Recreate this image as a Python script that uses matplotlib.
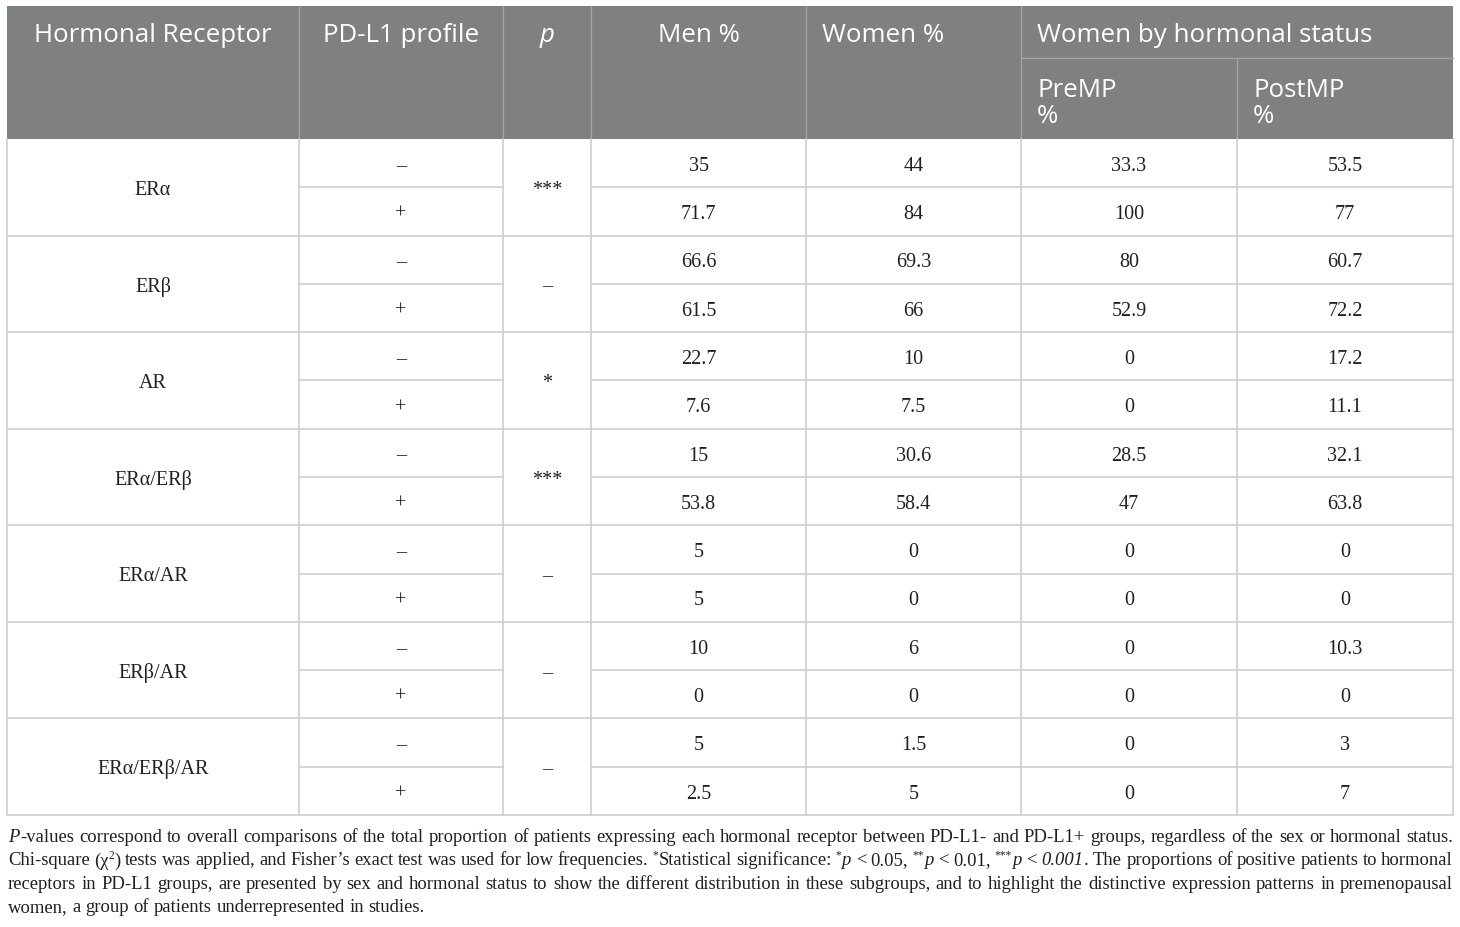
import re
import matplotlib
matplotlib.use("Agg")
import matplotlib.pyplot as plt
from matplotlib.patches import Rectangle

# ---------------- data ----------------
col_headers = ["Hormonal Receptor", "PD-L1 profile", "p", "Men %", "Women %", "Women by hormonal status"]
sub_headers = ["PreMP\n%", "PostMP\n%"]
receptors = ["ERα", "ERβ", "AR", "ERα/ERβ", "ERα/AR", "ERβ/AR", "ERα/ERβ/AR"]
pd_l1_profile = ["–", "+"]
p_values = ["***", "–", "*", "***", "–", "–", "–"]
men_pct = [35, 71.7, 66.6, 61.5, 22.7, 7.6, 15, 53.8, 5, 5, 10, 0, 5, 2.5]
women_pct = [44, 84, 69.3, 66, 10, 7.5, 30.6, 58.4, 0, 0, 6, 0, 1.5, 5]
premp_pct = [33.3, 100, 80, 52.9, 0, 0, 28.5, 47, 0, 0, 0, 0, 0, 0]
postmp_pct = [53.5, 77, 60.7, 72.2, 17.2, 11.1, 32.1, 63.8, 0, 0, 10.3, 0, 3, 7]
footnote_lines = [
    "_P_-values correspond to overall comparisons of the total proportion of patients expressing each hormonal receptor between PD-L1- and PD-L1+ groups, regardless of the sex or hormonal status.",
    "Chi-square (χ^2^) tests was applied, and Fisher’s exact test was used for low frequencies. ^*^Statistical significance: ^*^_p_ < 0.05, ^**^_p_ < 0.01, ^***^_p_ < _0.001_. The proportions of positive patients to hormonal",
    "receptors in PD-L1 groups, are presented by sex and hormonal status to show the different distribution in these subgroups, and to highlight the distinctive expression patterns in premenopausal",
    "women, a group of patients underrepresented in studies.",
]

# ---------------- layout (pixels) ----------------
W, H = 1460, 928
col_x = [7, 299, 503, 591, 806, 1021, 1237, 1453]
head_top, sub_line, head_bot = 7, 59, 140
body_bot = 816
n_rows = len(men_pct)
row_h = (body_bot - head_bot) / n_rows

HEAD_BG = "#7e8180"
HEAD_DIV = "#a3a5a4"
GRID = "#cdcdcd"
TXT = "#231f20"

fig = plt.figure(figsize=(W / 100, H / 100), dpi=100)
ax = fig.add_axes([0, 0, 1, 1])
ax.set_xlim(0, W)
ax.set_ylim(H, 0)
ax.axis("off")
renderer = fig.canvas.get_renderer()

def px2pt(px):
    return px * 72 / 100

def width_of(t):
    return t.get_window_extent(renderer).width

# header background
ax.add_patch(Rectangle((col_x[0], head_top), col_x[-1] - col_x[0], head_bot - head_top,
                       facecolor=HEAD_BG, edgecolor="none", zorder=1))
# header dividers
for x in col_x[1:-1]:
    y0 = sub_line if x == col_x[6] else head_top
    ax.plot([x, x], [y0, head_bot], color=HEAD_DIV, lw=px2pt(1.3), zorder=2)
ax.plot([col_x[5], col_x[7]], [sub_line, sub_line], color=HEAD_DIV, lw=px2pt(1.3), zorder=2)

# header font size auto-fit
HFONT = "Open Sans"
probe = ax.text(0, 0, col_headers[5], fontfamily=HFONT, fontsize=18)
hsize = 18 * 334 / width_of(probe)
probe.remove()

head_base = 42.5
for i, label in enumerate(col_headers):
    x0, x1 = col_x[i], col_x[i + 1]
    if i < 4:
        ax.text((x0 + x1) / 2, head_base, label, ha="center", va="baseline", color="white",
                fontfamily=HFONT, fontsize=hsize, fontstyle="italic" if label == "p" else "normal", zorder=3)
    else:
        ax.text(x0 + 16, head_base, label, ha="left", va="baseline", color="white",
                fontfamily=HFONT, fontsize=hsize, zorder=3)
for j, label in enumerate(sub_headers):
    x0 = col_x[5 + j]
    l1, l2 = label.split("\n")
    ax.text(x0 + 16, 97, l1, ha="left", va="baseline", color="white", fontfamily=HFONT, fontsize=hsize, zorder=3)
    ax.text(x0 + 16, 123, l2, ha="left", va="baseline", color="white", fontfamily=HFONT, fontsize=hsize, zorder=3)

# body grid
glw = px2pt(1.6)
for r in range(1, n_rows + 1):
    y = head_bot + r * row_h
    if r % 2 == 0:
        ax.plot([col_x[0], col_x[-1]], [y, y], color=GRID, lw=glw, zorder=2)
    else:
        ax.plot([col_x[1], col_x[2]], [y, y], color=GRID, lw=glw, zorder=2)
        ax.plot([col_x[3], col_x[-1]], [y, y], color=GRID, lw=glw, zorder=2)
for x in col_x:
    ax.plot([x, x], [head_bot, body_bot], color=GRID, lw=glw, zorder=2)

# body text
BFONT = "Liberation Serif"
bsize = 14.5
cap_off = 0.66 * bsize * 100 / 72 / 2

def cell_text(x, yc, s):
    ax.text(x, yc + cap_off, s, ha="center", va="baseline", color=TXT,
            fontfamily=BFONT, fontsize=bsize, zorder=3)

for g, rec in enumerate(receptors):
    yc = head_bot + (2 * g + 1) * row_h
    cell_text((col_x[0] + col_x[1]) / 2, yc, rec)
    cell_text((col_x[2] + col_x[3]) / 2, yc, p_values[g])

cols_vals = [men_pct, women_pct, premp_pct, postmp_pct]
for r in range(n_rows):
    yc = head_bot + (r + 0.5) * row_h
    cell_text((col_x[1] + col_x[2]) / 2, yc, pd_l1_profile[r % 2])
    for c, vals in enumerate(cols_vals):
        cell_text((col_x[3 + c] + col_x[4 + c]) / 2, yc, f"{vals[r]:g}")

# ---------------- footnote (justified) ----------------
seg_re = re.compile(r"(_[^_]+_|\^[^^]+\^|[^_^]+)")

def parse_word(w):
    segs = []
    for m in seg_re.findall(w):
        if m.startswith("_"):
            segs.append((m[1:-1], "i"))
        elif m.startswith("^"):
            segs.append((m[1:-1], "s"))
        else:
            segs.append((m, "n"))
    return segs

def make_seg(x, y, text, style, size):
    kw = dict(fontfamily=BFONT, color=TXT, va="baseline", ha="left", zorder=3)
    if style == "i":
        return ax.text(x, y, text, fontsize=size, fontstyle="italic", **kw)
    if style == "s":
        return ax.text(x, y - size * 100 / 72 * 0.36, text, fontsize=size * 0.62, **kw)
    return ax.text(x, y, text, fontsize=size, **kw)

def word_width(segs, size):
    tot = 0
    for text, st in segs:
        t = make_seg(0, 0, text, st, size)
        tot += width_of(t) + (0.6 if st == "i" else 0)
        t.remove()
    return tot

left, right = 8, col_x[-1]
fsize0 = 14.0
t1 = ax.text(0, 0, "a a", fontfamily=BFONT, fontsize=fsize0)
t2 = ax.text(0, 0, "aa", fontfamily=BFONT, fontsize=fsize0)
space0 = width_of(t1) - width_of(t2)
t1.remove(); t2.remove()
# fit footnote size so that the first (justified) line is just filled with normal spacing
first_words = [parse_word(w) for w in footnote_lines[0].split(" ")]
nat = sum(word_width(w, fsize0) for w in first_words) + space0 * (len(first_words) - 1)
fsize = fsize0 * (right - left - 4) / nat
space = space0 * fsize / fsize0

baselines = [842, 865.5, 889, 912.5]
for li, line in enumerate(footnote_lines):
    words = [parse_word(w) for w in line.split(" ")]
    widths = [word_width(w, fsize) for w in words]
    if li < len(footnote_lines) - 1 and len(words) > 1:
        gap = (right - left - sum(widths)) / (len(words) - 1)
    else:
        gap = space
    x = left
    for w, ww in zip(words, widths):
        xx = x
        for text, st in w:
            t = make_seg(xx, baselines[li], text, st, fsize)
            xx += width_of(t) + (0.6 if st == "i" else 0)
        x += ww + gap

fig.savefig("out.png", dpi=100)
